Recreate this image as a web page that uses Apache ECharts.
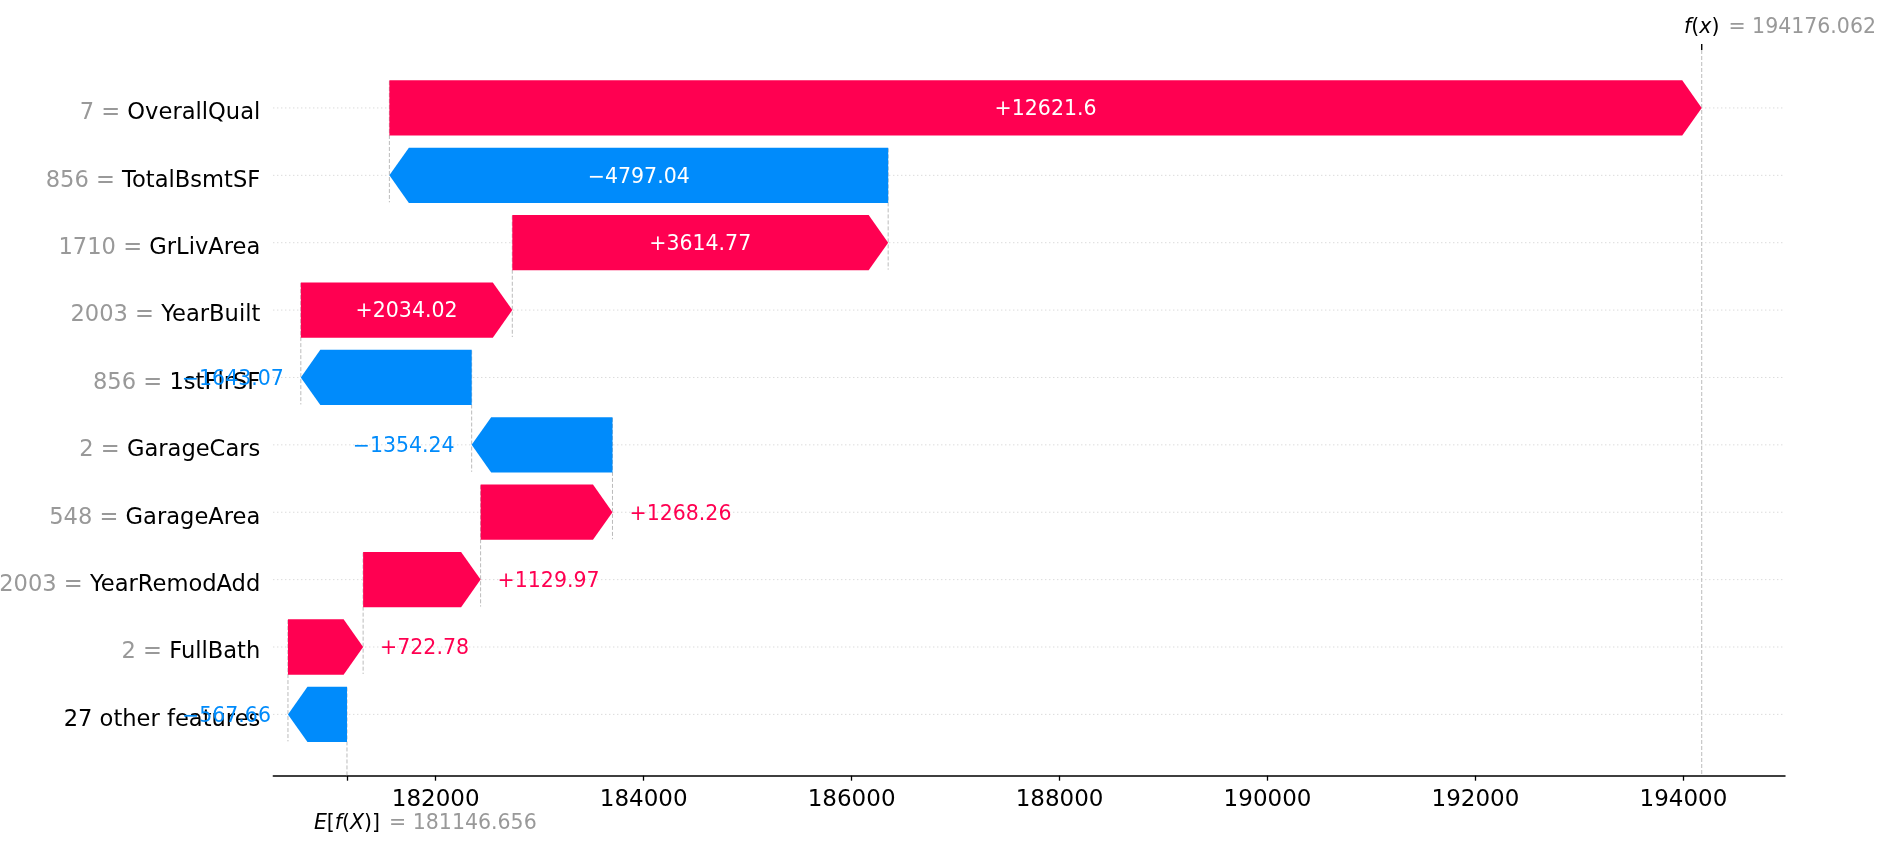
<!DOCTYPE html>
<html><head><meta charset="utf-8">
<script src="https://cdn.jsdelivr.net/npm/echarts@6/dist/echarts.min.js"></script>
<style>html,body{margin:0;padding:0;background:#fff}#c{width:1885px;height:851px}</style>
</head><body><div id="c"></div>
<script>
// ---- data ----
const features = ['OverallQual', 'TotalBsmtSF', 'GrLivArea', 'YearBuilt', '1stFlrSF', 'GarageCars', 'GarageArea', 'YearRemodAdd', 'FullBath', '27 other features'];
const featureValues = ['7', '856', '1710', '2003', '856', '2', '548', '2003', '2', ''];
const shapValues = [12621.6, -4797.04, 3614.77, 2034.02, -1643.07, -1354.24, 1268.26, 1129.97, 722.78, -567.66];
const baseValue = 181146.656;
const fxValue = 194176.062;
const xTickValues = [182000, 184000, 186000, 188000, 190000, 192000, 194000];
const xMin = 180438, xMax = 194977;
const yMin = -0.86, yMax = 9.91;

const RED = '#ff0051', BLUE = '#008bfb', GREY = '#999999';
const FONT = '"DejaVu Sans", sans-serif';

// cumulative waterfall positions
const n = shapValues.length;
const starts = new Array(n), ends = new Array(n);
let acc = baseValue;
for (let r = n - 1; r >= 0; r--) { starts[r] = acc; acc += shapValues[r]; ends[r] = acc; }
const barData = shapValues.map((v, r) => [r, starts[r], ends[r], v]);

function fmt(v) {
  const s = Math.abs(v).toFixed(2).replace(/0+$/, '').replace(/\.$/, '');
  return (v >= 0 ? '+' : '\u2212') + s;
}
const mctx = document.createElement('canvas').getContext('2d');
function textW(t, size, style) {
  mctx.font = (style ? style + ' ' : '') + size + 'px ' + FONT;
  return mctx.measureText(t).width;
}

const LBL = 20.5;
const LBL_DY = 2;

function renderGuides(params, api) {
  const cs = params.coordSys;
  const r = api.value(0), s = api.value(1);
  const y = api.coord([s, r])[1];
  const ct = api.coord([s, r - 0.4]);
  const cb = api.coord([s, Math.min(r + 1.4, yMax)]);
  return { type: 'group', children: [
    { type: 'line', shape: { x1: cs.x, y1: y, x2: cs.x + cs.width, y2: y },
      style: { stroke: '#cccccc', lineWidth: 1, lineDash: [1, 3] } },
    { type: 'line', shape: { x1: ct[0], y1: ct[1], x2: cb[0], y2: cb[1] },
      style: { stroke: '#bbbbbb', lineWidth: 1, lineDash: [4, 2] } }
  ]};
}

function renderBar(params, api) {
  const r = api.value(0), s = api.value(1), e = api.value(2), v = api.value(3);
  const p0 = api.coord([s, r]), p1 = api.coord([e, r]);
  const h = api.size([0, 0.82])[1];
  const y = p0[1];
  const x0 = p0[0], x1 = p1[0];
  const w = Math.abs(x1 - x0);
  const dir = v >= 0 ? 1 : -1;
  const hl = Math.min(w, 19.5);
  const pts = [[x0, y - h / 2], [x1 - dir * hl, y - h / 2], [x1, y], [x1 - dir * hl, y + h / 2], [x0, y + h / 2]];
  const color = v >= 0 ? RED : BLUE;
  const label = fmt(v);
  const tw = textW(label, LBL);
  const inside = w > 1.9 * tw;
  const children = [{ type: 'polygon', shape: { points: pts }, style: { fill: color } }];
  if (inside) {
    children.push({ type: 'text', x: (x0 + x1) / 2, y: y + LBL_DY,
      style: { text: label, fill: '#ffffff', fontSize: LBL, fontFamily: FONT, align: 'center', verticalAlign: 'middle' } });
  } else {
    children.push({ type: 'text', x: x1 + dir * 17, y: y + LBL_DY,
      style: { text: label, fill: color, fontSize: LBL, fontFamily: FONT, align: dir > 0 ? 'left' : 'right', verticalAlign: 'middle' } });
  }
  return { type: 'group', children: children };
}

function renderAnno(params, api) {
  const fx = api.value(0), ev = api.value(1);
  const top = api.coord([fx, yMin]), bot = api.coord([fx, yMax]);
  const eb = api.coord([ev, yMax]);
  const richBase = {
    i: { fontStyle: 'italic', fontSize: LBL, fontFamily: FONT, fill: '#000' },
    n: { fontSize: LBL, fontFamily: FONT, fill: '#000' }
  };
  const wF = textW('f', LBL, 'italic') + textW('(', LBL) + textW('x', LBL, 'italic') + textW(')', LBL);
  const wE = textW('E', LBL, 'italic') + textW('[', LBL) + textW('f', LBL, 'italic') + textW('(', LBL) + textW('X', LBL, 'italic') + textW(')]', LBL);
  const gap = 9;
  const fy = top[1] - 22;
  const ey = eb[1] + 47.5;
  return { type: 'group', children: [
    { type: 'line', shape: { x1: top[0], y1: top[1], x2: bot[0], y2: bot[1] },
      style: { stroke: '#bbbbbb', lineWidth: 1, lineDash: [4, 2] } },
    { type: 'line', shape: { x1: top[0], y1: top[1], x2: top[0], y2: top[1] - 6 },
      style: { stroke: '#000', lineWidth: 1.4 } },
    { type: 'text', x: top[0], y: fy,
      style: { text: '{i|f}{n|(}{i|x}{n|)}', rich: richBase, align: 'center', verticalAlign: 'middle' } },
    { type: 'text', x: top[0] + wF / 2 + gap, y: fy,
      style: { text: '= ' + fxValue.toFixed(3), fill: GREY, fontSize: LBL, fontFamily: FONT, align: 'left', verticalAlign: 'middle' } },
    { type: 'text', x: eb[0], y: ey,
      style: { text: '{i|E}{n|[}{i|f}{n|(}{i|X}{n|)]}', rich: richBase, align: 'center', verticalAlign: 'middle' } },
    { type: 'text', x: eb[0] + wE / 2 + gap, y: ey,
      style: { text: '= ' + baseValue.toFixed(3), fill: GREY, fontSize: LBL, fontFamily: FONT, align: 'left', verticalAlign: 'middle' } }
  ]};
}

const chart = echarts.init(document.getElementById('c'), null, { renderer: 'canvas' });
chart.setOption({
  animation: false,
  backgroundColor: '#ffffff',
  grid: { left: 273.3, right: 100, top: 50, bottom: 75.3, containLabel: false, outerBoundsMode: 'none' },
  xAxis: {
    type: 'value', min: xMin, max: xMax, position: 'bottom',
    axisLine: { show: true, onZero: false, lineStyle: { color: '#000', width: 1.5 } },
    axisTick: { show: true, length: 5, lineStyle: { color: '#000', width: 1.3 }, customValues: [baseValue].concat(xTickValues) },
    axisLabel: { customValues: xTickValues, fontSize: 23, fontFamily: FONT, color: '#000', margin: 13, formatter: v => String(v) },
    splitLine: { show: false }
  },
  yAxis: {
    type: 'value', min: yMin, max: yMax, inverse: true,
    axisLine: { show: false }, axisTick: { show: false }, splitLine: { show: false },
    axisLabel: {
      customValues: features.map((_, i) => i), margin: 13, padding: [11, 0, 0, 0],
      formatter: v => {
        const i = Math.round(v);
        const fv = featureValues[i];
        return (fv ? '{v|' + fv + ' = }' : '') + '{n|' + features[i] + '}';
      },
      rich: {
        v: { color: GREY, fontSize: 22.6, fontFamily: FONT },
        n: { color: '#000', fontSize: 22.6, fontFamily: FONT }
      }
    }
  },
  series: [
    { type: 'custom', name: 'guides', z: 1, clip: true, renderItem: renderGuides, data: barData, encode: { x: [1, 2], y: 0 }, silent: true },
    { type: 'custom', name: 'bars', z: 3, clip: false, renderItem: renderBar, data: barData, encode: { x: [1, 2], y: 0 } },
    { type: 'custom', name: 'annotations', z: 2, clip: false, renderItem: renderAnno, data: [[fxValue, baseValue]], encode: { x: [0, 1] }, silent: true }
  ]
});
</script>
</body></html>
